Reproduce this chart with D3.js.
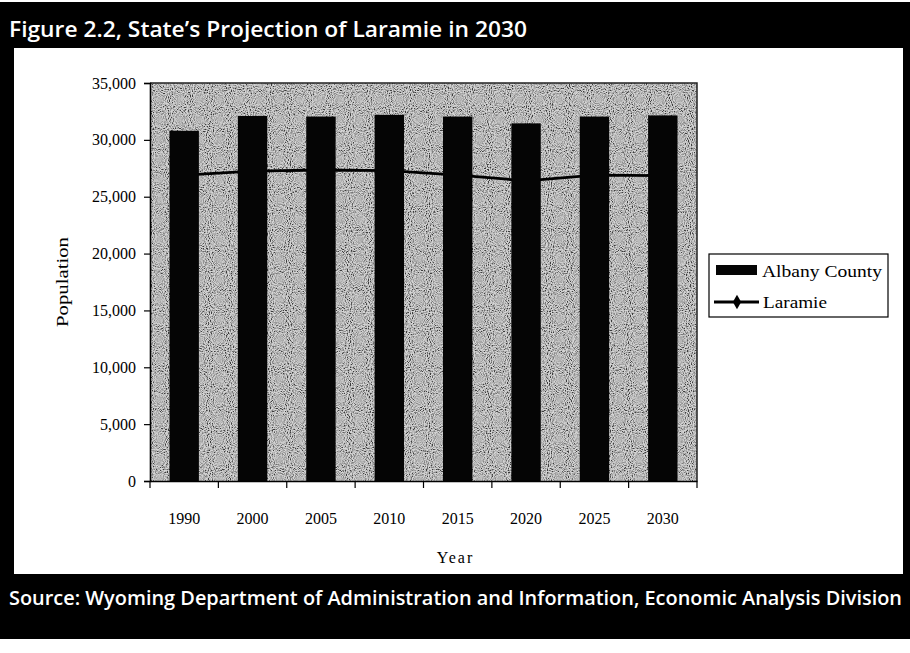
<!DOCTYPE html>
<html>
<head>
<meta charset="utf-8">
<script src="https://cdn.jsdelivr.net/npm/d3@7"></script>
<style>
  html, body { margin: 0; padding: 0; background: #000; }
  svg { display: block; }
</style>
</head>
<body>
<svg id="chart" width="910" height="653"></svg>
<script>
// Population of Albany County and the city of Laramie, census years and state projections
const years = ["1990", "2000", "2005", "2010", "2015", "2020", "2025", "2030"];
const albanyCounty = [30800, 32100, 32050, 32200, 32050, 31450, 32050, 32150];
const laramie = [26900, 27250, 27350, 27300, 26900, 26400, 26900, 26850];
const yTicks = [0, 5000, 10000, 15000, 20000, 25000, 30000, 35000];

const titleText = "Figure 2.2, State\u2019s Projection of Laramie in 2030";
const sourceText = "Source: Wyoming Department of Administration and Information, Economic Analysis Division";
const seriesNames = ["Albany County", "Laramie"];

const svg = d3.select("#chart");
const W = 910, H = 653;
const serif = "'Liberation Serif', 'Times New Roman', serif";
const sans = "'Open Sans', 'Noto Sans', sans-serif";

// page frame
svg.append("rect").attr("width", W).attr("height", H).attr("fill", "#000");
svg.append("rect").attr("x", 0).attr("y", 0).attr("width", W).attr("height", 2).attr("fill", "#fff");
svg.append("rect").attr("x", 0).attr("y", 639).attr("width", W).attr("height", H - 639).attr("fill", "#fff");
svg.append("rect").attr("x", 14).attr("y", 48).attr("width", 889).attr("height", 526).attr("fill", "#fff");

svg.append("text")
  .attr("x", 9).attr("y", 37)
  .attr("fill", "#fff")
  .attr("font-family", sans).attr("font-size", 22).attr("font-weight", 600)
  .attr("textLength", 518).attr("lengthAdjust", "spacingAndGlyphs")
  .text(titleText);

svg.append("text")
  .attr("x", 9).attr("y", 605)
  .attr("fill", "#fff")
  .attr("font-family", sans).attr("font-size", 20).attr("font-weight", 600)
  .attr("textLength", 893).attr("lengthAdjust", "spacingAndGlyphs")
  .text(sourceText);

// plot area
const plot = { left: 150, right: 697, top: 83, bottom: 481 };

const x = d3.scaleBand()
  .domain(years)
  .range([plot.left, plot.right])
  .paddingInner(0.57)
  .paddingOuter(0.285);

const y = d3.scaleLinear()
  .domain([0, 35000])
  .range([plot.bottom, plot.top]);

// grainy gray plot fill
const defs = svg.append("defs");
const grain = defs.append("filter").attr("id", "grain")
  .attr("x", 0).attr("y", 0).attr("width", "100%").attr("height", "100%");
grain.append("feTurbulence")
  .attr("type", "fractalNoise").attr("baseFrequency", 0.95)
  .attr("numOctaves", 1).attr("seed", 3).attr("result", "noise");
grain.append("feColorMatrix")
  .attr("in", "noise").attr("type", "matrix")
  .attr("values", "3 0 0 0 -0.9  3 0 0 0 -0.9  3 0 0 0 -0.9  0 0 0 0 1");

svg.append("rect")
  .attr("x", plot.left).attr("y", plot.top)
  .attr("width", plot.right - plot.left).attr("height", plot.bottom - plot.top)
  .attr("fill", "#999");
svg.append("rect")
  .attr("x", plot.left).attr("y", plot.top)
  .attr("width", plot.right - plot.left).attr("height", plot.bottom - plot.top)
  .attr("filter", "url(#grain)")
  .attr("opacity", 0.6);

// Laramie line with diamond markers, drawn beneath the bars
const line = d3.line()
  .x((d, i) => x(years[i]) + x.bandwidth() / 2)
  .y(d => y(d));

svg.append("path")
  .datum(laramie)
  .attr("d", line)
  .attr("fill", "none")
  .attr("stroke", "#000")
  .attr("stroke-width", 2.8);

const diamond = d3.symbol().type(d3.symbolDiamond).size(60);
svg.append("g").selectAll("path")
  .data(laramie)
  .join("path")
  .attr("d", diamond)
  .attr("transform", (d, i) => `translate(${x(years[i]) + x.bandwidth() / 2},${y(d)})`)
  .attr("fill", "#000");

// bars
svg.append("g").selectAll("rect")
  .data(years)
  .join("rect")
  .attr("x", d => x(d))
  .attr("width", x.bandwidth())
  .attr("y", (d, i) => y(albanyCounty[i]))
  .attr("height", (d, i) => y(0) - y(albanyCounty[i]))
  .attr("fill", "#050505");

// plot border (top and right)
svg.append("path")
  .attr("d", `M${plot.left},${plot.top}H${plot.right}V${plot.bottom}`)
  .attr("fill", "none").attr("stroke", "#222").attr("stroke-width", 1.5);

// y axis
const yAxis = svg.append("g")
  .attr("transform", `translate(${plot.left},0)`)
  .call(d3.axisLeft(y).tickValues(yTicks).tickSize(6).tickPadding(8).tickFormat(d3.format(",")));
yAxis.select(".domain").attr("stroke", "#000").attr("stroke-width", 1.6);
yAxis.selectAll(".tick line").attr("stroke", "#000").attr("stroke-width", 1.2);
yAxis.selectAll(".tick text")
  .attr("font-family", serif).attr("font-size", 16).attr("fill", "#000");

// x axis: ticks sit between categories
const xAxis = svg.append("g")
  .attr("transform", `translate(0,${plot.bottom})`)
  .call(d3.axisBottom(x).tickSize(0).tickPadding(32));
xAxis.select(".domain").attr("stroke", "#000").attr("stroke-width", 1.6);
xAxis.selectAll(".tick text")
  .attr("font-family", serif).attr("font-size", 16).attr("fill", "#000");

const step = x.step();
const boundaries = years.map((d, i) => x(d) - (step - x.bandwidth()) / 2).concat([plot.right]);
xAxis.selectAll("line.sep")
  .data(boundaries)
  .join("line")
  .attr("class", "sep")
  .attr("x1", d => d).attr("x2", d => d)
  .attr("y1", 0).attr("y2", 7)
  .attr("stroke", "#000").attr("stroke-width", 1.2);

// axis titles
svg.append("text")
  .attr("transform", `translate(68,${(plot.top + plot.bottom) / 2}) rotate(-90)`)
  .attr("text-anchor", "middle")
  .attr("font-family", serif).attr("font-size", 17)
  .attr("textLength", 90).attr("lengthAdjust", "spacingAndGlyphs")
  .text("Population");

svg.append("text")
  .attr("x", (plot.left + plot.right) / 2 + 32).attr("y", 563)
  .attr("text-anchor", "middle")
  .attr("font-family", serif).attr("font-size", 16)
  .attr("letter-spacing", 2)
  .text("Year");

// legend
const lg = svg.append("g").attr("transform", "translate(709,254)");
lg.append("rect")
  .attr("width", 179).attr("height", 63)
  .attr("fill", "#fff").attr("stroke", "#000").attr("stroke-width", 1.2);
lg.append("rect")
  .attr("x", 7).attr("y", 11).attr("width", 41).attr("height", 10)
  .attr("fill", "#050505");
lg.append("text")
  .attr("x", 53).attr("y", 23)
  .attr("font-family", serif).attr("font-size", 17)
  .attr("textLength", 120).attr("lengthAdjust", "spacingAndGlyphs")
  .text(seriesNames[0]);
lg.append("line")
  .attr("x1", 5).attr("x2", 50).attr("y1", 48).attr("y2", 48)
  .attr("stroke", "#000").attr("stroke-width", 2.8);
lg.append("path")
  .attr("d", diamond)
  .attr("transform", "translate(28,48)")
  .attr("fill", "#000");
lg.append("text")
  .attr("x", 54).attr("y", 54)
  .attr("font-family", serif).attr("font-size", 17)
  .attr("textLength", 64).attr("lengthAdjust", "spacingAndGlyphs")
  .text(seriesNames[1]);
</script>
</body>
</html>
